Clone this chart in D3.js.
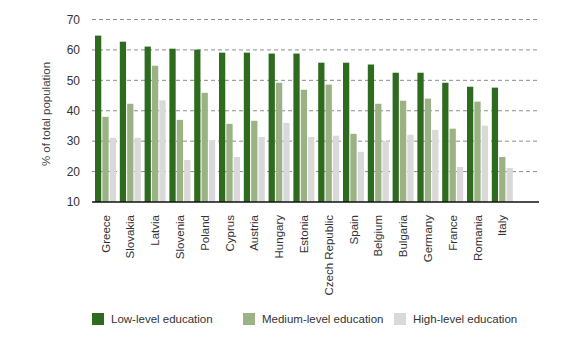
<!DOCTYPE html>
<html>
<head>
<meta charset="utf-8">
<script src="https://cdn.jsdelivr.net/npm/d3@7"></script>
<style>
  body { margin: 0; background: #fff; }
  svg { display: block; font-family: "Liberation Sans", Arial, sans-serif; }
</style>
</head>
<body>
<svg id="chart" width="581" height="337"></svg>
<script>
const countries = ["Greece","Slovakia","Latvia","Slovenia","Poland","Cyprus","Austria","Hungary","Estonia","Czech Republic","Spain","Belgium","Bulgaria","Germany","France","Romania","Italy"];
const lowLevel    = [64.7, 62.7, 61.1, 60.4, 60.1, 59.1, 59.1, 58.8, 58.8, 55.8, 55.8, 55.2, 52.5, 52.5, 49.2, 47.9, 47.6];
const mediumLevel = [38.0, 42.3, 54.8, 37.0, 45.9, 35.7, 36.7, 49.2, 46.9, 48.6, 32.4, 42.3, 43.3, 44.0, 34.1, 43.0, 24.8];
const highLevel   = [31.1, 31.1, 43.4, 23.8, 30.3, 24.8, 31.4, 36.0, 31.4, 31.8, 26.5, 30.1, 32.1, 33.7, 21.5, 35.1, 21.2];
const seriesNames = ["Low-level education","Medium-level education","High-level education"];
const seriesColors = ["#2f6b1e","#9bb285","#d9d9d9"];
const yTicks = [10,20,30,40,50,60,70];

const series = [lowLevel, mediumLevel, highLevel];
const svg = d3.select("#chart");

const x = d3.scaleBand().domain(countries).range([95, 95 + 17*24.8]).padding(0);
const xInner = d3.scaleBand().domain(seriesNames).range([0, 21]).paddingInner(0.15);
const y = d3.scaleLinear().domain([10, 70]).range([202, 19.5]);

// grid
svg.append("g").selectAll("line")
  .data(yTicks.filter(t => t > 10))
  .join("line")
  .attr("x1", 92).attr("x2", 539)
  .attr("y1", d => y(d)).attr("y2", d => y(d))
  .attr("stroke", "#8c8c8c").attr("stroke-width", 1)
  .attr("stroke-dasharray", "4,3");

// y tick labels
svg.append("g").selectAll("text")
  .data(yTicks)
  .join("text")
  .attr("x", 80).attr("y", d => y(d))
  .attr("dy", "0.36em")
  .attr("text-anchor", "end")
  .attr("font-size", 12)
  .attr("fill", "#333")
  .text(d => d);

// y axis title
svg.append("text")
  .attr("transform", "translate(50,114) rotate(-90)")
  .attr("text-anchor", "middle")
  .attr("font-size", 11.5)
  .attr("fill", "#444")
  .text("% of total population");

// bars
const groups = svg.append("g").selectAll("g")
  .data(countries)
  .join("g")
  .attr("transform", d => `translate(${x(d)},0)`);

groups.selectAll("rect")
  .data((c, i) => series.map((s, k) => ({ name: seriesNames[k], value: s[i], color: seriesColors[k] })))
  .join("rect")
  .attr("x", d => xInner(d.name))
  .attr("width", xInner.bandwidth())
  .attr("y", d => y(d.value))
  .attr("height", d => y(10) - y(d.value))
  .attr("fill", d => d.color);

// baseline
svg.append("line")
  .attr("x1", 92).attr("x2", 539)
  .attr("y1", y(10)).attr("y2", y(10))
  .attr("stroke", "#111").attr("stroke-width", 1.5);

// category labels
svg.append("g").selectAll("text")
  .data(countries)
  .join("text")
  .attr("transform", d => `translate(${x(d) + 10.5 + 4},215) rotate(-90)`)
  .attr("text-anchor", "end")
  .attr("font-size", 11.5)
  .attr("fill", "#333")
  .text(d => d);

// legend
const legendX = [92, 243, 394];
const leg = svg.append("g").selectAll("g")
  .data(seriesNames)
  .join("g")
  .attr("transform", (d, i) => `translate(${legendX[i]},313)`);
leg.append("rect")
  .attr("width", 12).attr("height", 12)
  .attr("fill", (d, i) => seriesColors[i]);
leg.append("text")
  .attr("x", 19).attr("y", 6)
  .attr("dy", "0.36em")
  .attr("font-size", 11.5)
  .attr("fill", "#333")
  .text(d => d);
</script>
</body>
</html>
